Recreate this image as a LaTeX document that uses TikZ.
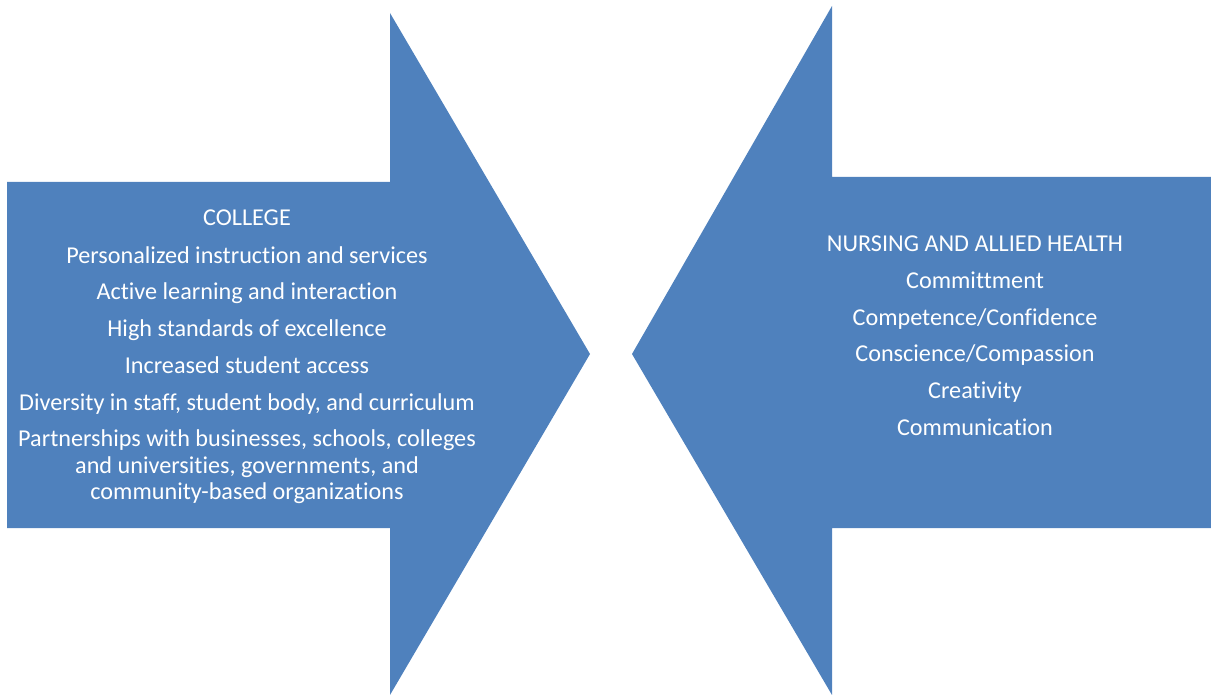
\documentclass[tikz,border=0pt]{standalone}
\usepackage{fontspec}
\setmainfont{Carlito}[Ligatures={NoCommon}]
\definecolor{arrowblue}{HTML}{4F81BD}
\begin{document}
\begin{tikzpicture}[x=1pt,y=-1pt,
  arrowshape/.style={fill=arrowblue,draw=none},
  lbl/.style={text=white,font=\fontsize{24.2}{26.5}\selectfont,anchor=base,inner sep=0pt,align=center}]
\useasboundingbox (0,0) rectangle (1211,695);
% left arrow
\fill[arrowshape] (7,182) -- (390,182) -- (390,13) -- (590,354) -- (390,695) -- (390,528) -- (7,528) -- cycle;
% right arrow
\fill[arrowshape] (1211,177) -- (832,177) -- (832,6) -- (632,354) -- (832,695) -- (832,528) -- (1211,528) -- cycle;
% left texts
\node[lbl] (l0) at (247,226) {COLLEGE};
\node[lbl] (l1) at (247,264) {Personalized instruction and services};
\node[lbl] (l2) at (247,300) {Active learning and interaction};
\node[lbl] (l3) at (247,336) {High standards of excellence};
\node[lbl] (l4) at (247,373) {Increased student access};
\node[lbl] (l5) at (247,410) {Diversity in staff, student body, and curriculum};
\node[lbl] (l6a) at (247,446) {Partnerships with businesses, schools, colleges};
\node[lbl] (l6b) at (247,473) {and universities, governments, and};
\node[lbl] (l6c) at (247,499) {community-based organizations};
% right texts
\node[lbl] (r0) at (975,252) {NURSING AND ALLIED HEALTH};
\node[lbl] (r1) at (975,289) {Committment};
\node[lbl] (r2) at (975,325) {Competence/Confidence};
\node[lbl] (r3) at (975,361) {Conscience/Compassion};
\node[lbl] (r4) at (975,398) {Creativity};
\node[lbl] (r5) at (975,435) {Communication};
\end{tikzpicture}
\end{document}
